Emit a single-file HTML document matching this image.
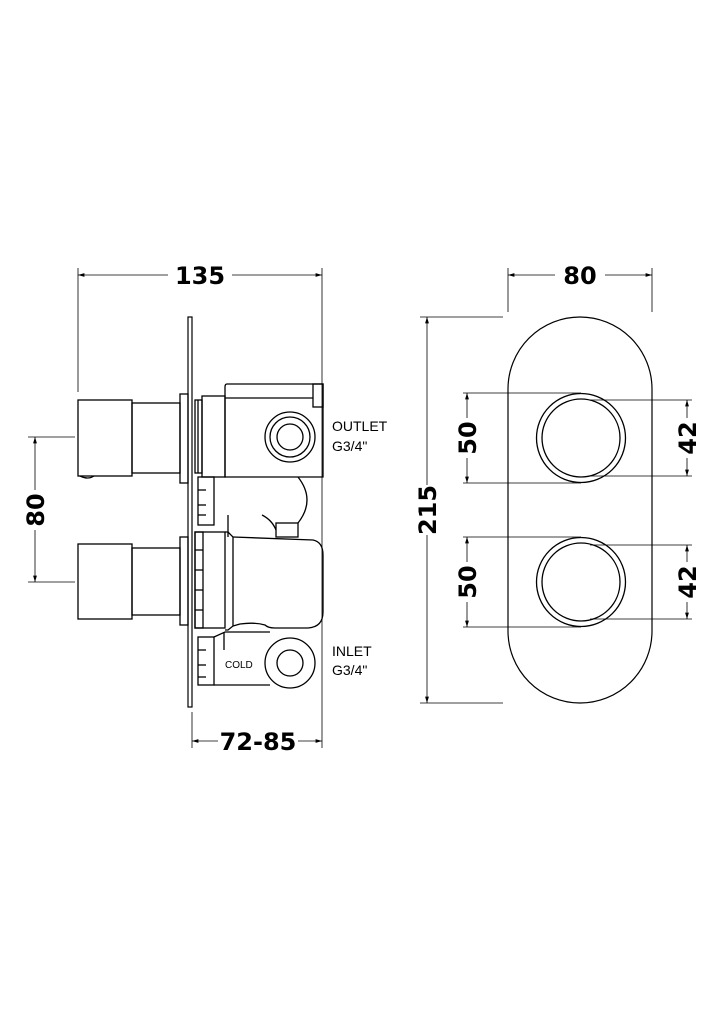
<!DOCTYPE html>
<html><head><meta charset="utf-8"><style>
html,body{margin:0;padding:0;background:#fff;}
svg{display:block;}
.b{font-family:"DejaVu Sans","Liberation Sans",sans-serif;font-weight:bold;font-size:24px;fill:#000;}
.s{font-family:"Liberation Sans",sans-serif;font-size:14px;fill:#000;}
</style></head><body>
<svg width="724" height="1024" viewBox="0 0 724 1024" xmlns="http://www.w3.org/2000/svg">
<defs>
<marker id="a" viewBox="0 0 10 10" refX="10" refY="5" markerWidth="8" markerHeight="8" orient="auto-start-reverse"><path d="M0,2 L10,5 L0,8 z" fill="#000"/></marker>
</defs>
<g stroke="#000" fill="none" stroke-width="0.8">
<line x1="78" y1="268" x2="78" y2="392"/>
<line x1="322" y1="268" x2="322" y2="748"/>
<line x1="78" y1="275" x2="168" y2="275" marker-start="url(#a)"/>
<line x1="232" y1="275" x2="322" y2="275" marker-end="url(#a)"/>
<line x1="28" y1="437" x2="75" y2="437"/>
<line x1="28" y1="582" x2="75" y2="582"/>
<line x1="35" y1="437" x2="35" y2="490" marker-start="url(#a)"/>
<line x1="35" y1="530" x2="35" y2="582" marker-end="url(#a)"/>
<line x1="192" y1="712" x2="192" y2="748"/>
<line x1="192" y1="741" x2="218" y2="741" marker-start="url(#a)"/>
<line x1="298" y1="741" x2="322" y2="741" marker-end="url(#a)"/>
<rect x="188" y="317" width="4" height="390" stroke-width="1.2"/>
<g stroke-width="1.3">
<rect x="78" y="400" width="54" height="76"/>
<rect x="132" y="403" width="48" height="70"/>
<rect x="180" y="394" width="8" height="89"/>
<path d="M80,476 q8,4 14,0"/>
<rect x="78" y="544" width="54" height="75"/>
<rect x="132" y="548" width="48" height="67"/>
<rect x="180" y="537" width="8" height="88"/>
<path d="M227,384 L323,384 L323,477 L225,477 L225,387 Q225,384 227,384"/>
<line x1="225" y1="398" x2="313" y2="398"/>
<rect x="313" y="384" width="10" height="23"/>
<rect x="202" y="396" width="23" height="81"/>
<rect x="195" y="400" width="7" height="73"/>
<line x1="198" y1="400" x2="198" y2="473"/>
<circle cx="290" cy="437" r="25"/><circle cx="290" cy="437" r="20"/><circle cx="290" cy="437" r="13"/>
<rect x="198" y="477" width="16" height="48"/>
<line x1="198" y1="490" x2="206" y2="490"/><line x1="198" y1="505" x2="206" y2="505"/><line x1="198" y1="515" x2="206" y2="515"/>
<path d="M298,477 Q316,500 298,523"/>
<rect x="276" y="523" width="22" height="14"/>
<path d="M262,515 Q272,520 276,530"/>
<line x1="228" y1="515" x2="228" y2="537"/>
<rect x="195" y="532" width="30" height="96"/>
<rect x="195" y="532" width="8" height="96"/>
<line x1="195" y1="550" x2="203" y2="550"/><line x1="195" y1="570" x2="203" y2="570"/><line x1="195" y1="590" x2="203" y2="590"/><line x1="195" y1="610" x2="203" y2="610"/>
<path d="M225,532 L228,532 L233,537 L233,626 L228,630 L225,630"/>
<path d="M233,537 L313,540 Q323,542 323,555 L323,612 Q323,627 308,628 L275,628 Q268,628 265,625 Q255,622 240,624 L233,626"/>
<rect x="198" y="637" width="16" height="48"/>
<line x1="198" y1="650" x2="206" y2="650"/><line x1="198" y1="665" x2="206" y2="665"/><line x1="198" y1="677" x2="206" y2="677"/>
<path d="M214,637 L225,632 L270,632 M214,685 L270,685"/>
<line x1="224" y1="632" x2="224" y2="650"/>
<circle cx="290" cy="663" r="25"/><circle cx="290" cy="663" r="13"/>
</g>
<line x1="508" y1="268" x2="508" y2="312"/>
<line x1="652" y1="268" x2="652" y2="312"/>
<line x1="508" y1="275" x2="555" y2="275" marker-start="url(#a)"/>
<line x1="605" y1="275" x2="652" y2="275" marker-end="url(#a)"/>
<line x1="420" y1="317" x2="503" y2="317"/>
<line x1="420" y1="703" x2="503" y2="703"/>
<line x1="427" y1="317" x2="427" y2="485" marker-start="url(#a)"/>
<line x1="427" y1="535" x2="427" y2="703" marker-end="url(#a)"/>
<rect x="508" y="317" width="144" height="386" rx="72" ry="72" stroke-width="1.2"/>
<g stroke-width="1.3">
<circle cx="581" cy="438" r="44.5"/><circle cx="581" cy="438" r="39"/>
<circle cx="581" cy="582" r="44.5"/><circle cx="581" cy="582" r="39"/>
</g>
<line x1="463" y1="393" x2="581" y2="393"/>
<line x1="463" y1="483" x2="581" y2="483"/>
<line x1="463" y1="537" x2="581" y2="537"/>
<line x1="463" y1="627" x2="581" y2="627"/>
<line x1="590" y1="400" x2="692" y2="400"/>
<line x1="590" y1="476" x2="692" y2="476"/>
<line x1="590" y1="545" x2="692" y2="545"/>
<line x1="590" y1="619" x2="692" y2="619"/>
<line x1="467" y1="393" x2="467" y2="418" marker-start="url(#a)"/>
<line x1="467" y1="458" x2="467" y2="483" marker-end="url(#a)"/>
<line x1="467" y1="537" x2="467" y2="562" marker-start="url(#a)"/>
<line x1="467" y1="602" x2="467" y2="627" marker-end="url(#a)"/>
<line x1="687" y1="400" x2="687" y2="418" marker-start="url(#a)"/>
<line x1="687" y1="458" x2="687" y2="476" marker-end="url(#a)"/>
<line x1="687" y1="545" x2="687" y2="562" marker-start="url(#a)"/>
<line x1="687" y1="602" x2="687" y2="619" marker-end="url(#a)"/>
</g>
<text class="b" x="200" y="284" text-anchor="middle">135</text>
<text class="b" x="580" y="284" text-anchor="middle">80</text>
<text class="b" x="258" y="750" text-anchor="middle">72-85</text>
<text class="b" transform="translate(44,510) rotate(-90)" text-anchor="middle">80</text>
<text class="b" transform="translate(436,510) rotate(-90)" text-anchor="middle">215</text>
<text class="b" transform="translate(476,438) rotate(-90)" text-anchor="middle">50</text>
<text class="b" transform="translate(476,582) rotate(-90)" text-anchor="middle">50</text>
<text class="b" transform="translate(696,438) rotate(-90)" text-anchor="middle">42</text>
<text class="b" transform="translate(696,582) rotate(-90)" text-anchor="middle">42</text>
<text class="s" x="332" y="431">OUTLET</text>
<text class="s" x="332" y="451">G3/4"</text>
<text class="s" x="332" y="656">INLET</text>
<text class="s" x="332" y="675">G3/4"</text>
<text x="225" y="668" font-family="Liberation Sans Narrow,Liberation Sans,sans-serif" font-size="10" fill="#000">COLD</text>
</svg>
</body></html>
